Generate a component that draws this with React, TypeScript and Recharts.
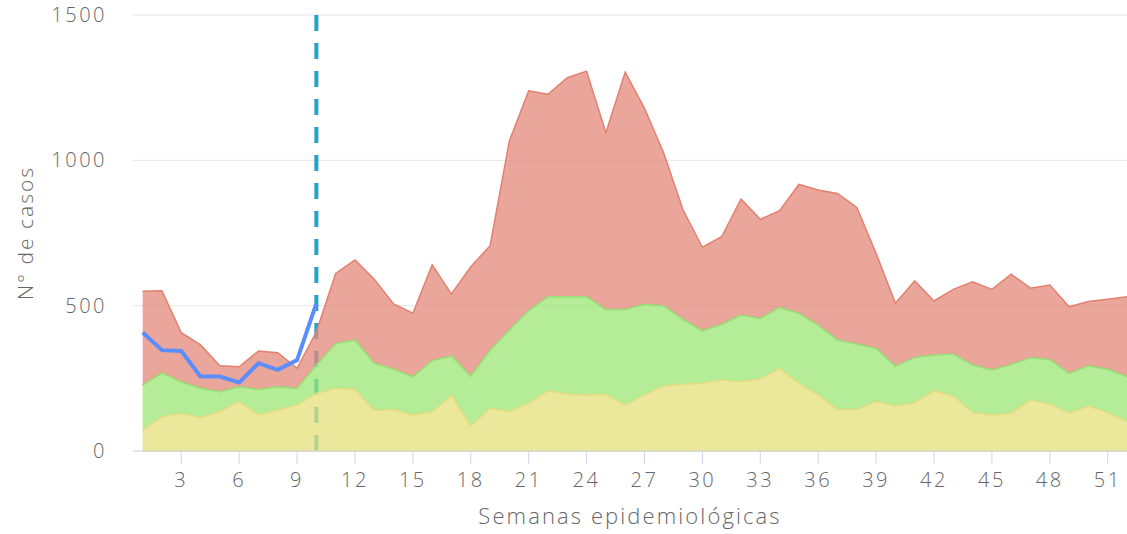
import { Area, CartesianGrid, ComposedChart, Line, ReferenceLine, XAxis, YAxis } from 'recharts';

// epidemiological weeks 1..52
const weeks = Array.from({ length: 52 }, (_, i) => i + 1);

// upper edge of each zone (cases)
const successZone = [
  72, 118, 130, 115, 135, 170, 124, 141, 158, 198, 216, 212, 139, 143, 124, 135, 191, 86, 147, 135,
  164, 207, 195, 193, 195, 158, 193, 224, 230, 233, 244, 238, 248, 284, 233, 193, 143, 143, 170, 155,
  166, 207, 189, 132, 124, 130, 175, 162, 130, 155, 132, 101,
];
const securityZone = [
  227, 269, 238, 216, 204, 221, 212, 221, 216, 296, 370, 382, 302, 281, 256, 311, 327, 258, 347, 416,
  483, 531, 531, 531, 487, 487, 505, 499, 453, 414, 436, 468, 456, 494, 474, 433, 382, 368, 353, 292,
  322, 330, 334, 296, 279, 298, 321, 315, 267, 293, 281, 256,
];
const alertZone = [
  550, 551, 407, 365, 293, 290, 344, 338, 284, 410, 611, 657, 591, 506, 474, 640, 540, 634, 706, 1067,
  1239, 1227, 1284, 1307, 1095, 1303, 1179, 1024, 829, 701, 737, 867, 797, 827, 917, 898, 886, 838, 680, 508,
  585, 516, 556, 582, 556, 608, 560, 571, 496, 514, 522, 531,
];
// current year, reported weeks only
const currentYear = [408, 347, 344, 256, 256, 236, 302, 279, 313, 508];

const currentWeek = 10;
const xTicks = [3, 6, 9, 12, 15, 18, 21, 24, 27, 30, 33, 36, 39, 42, 45, 48, 51];
const yTicks = [0, 500, 1000, 1500];

const data = weeks.map((w, i) => ({
  week: w,
  success: [0, successZone[i]],
  security: [successZone[i], securityZone[i]],
  alert: [securityZone[i], alertZone[i]],
  current: i < currentYear.length ? currentYear[i] : null,
}));

const font = '"Open Sans", sans-serif';
const textColor = '#666666';
const tickStyle = { fill: textColor, fontSize: 20, fontFamily: font, fontWeight: 300, letterSpacing: 2.5 };

function YTitle(props: any) {
  const vb = props.viewBox || { x: 0, y: 0, width: 0, height: 0 };
  const cx = vb.x + 25;
  const cy = vb.y + vb.height / 2;
  return (
    <text
      x={cx}
      y={cy}
      transform={`rotate(-90, ${cx}, ${cy})`}
      textAnchor="middle"
      dominantBaseline="central"
      fill={textColor}
      fontSize={21}
      fontFamily={font}
      fontWeight={300}
      letterSpacing={2}
    >
      N° de casos
    </text>
  );
}

export default function App() {
  return (
    <div style={{ position: 'absolute', left: 0, top: 0, background: '#fff' }}>
      <ComposedChart width={1127} height={534} data={data} margin={{ top: 15, right: 0, bottom: 0, left: 0 }}>
        <CartesianGrid stroke="#e6e6e6" vertical={false} />
        <ReferenceLine
          x={currentWeek}
          stroke="#21a3cb"
          strokeWidth={4}
          strokeDasharray="16 12"
          zIndex={50}
        />
        <Area
          type="linear"
          dataKey="alert"
          stroke="#e3806f"
          strokeWidth={1.5}
          fill="#e4887a"
          fillOpacity={0.75}
          isAnimationActive={false}
        />
        <Area
          type="linear"
          dataKey="security"
          stroke="#97e27a"
          strokeWidth={1.5}
          fill="#9ce676"
          fillOpacity={0.75}
          isAnimationActive={false}
        />
        <Area
          type="linear"
          dataKey="success"
          stroke="#e9dd86"
          strokeWidth={1.5}
          fill="#e4e07b"
          fillOpacity={0.75}
          isAnimationActive={false}
        />
        <Line
          type="linear"
          dataKey="current"
          stroke="#5b8dfc"
          strokeWidth={4}
          dot={false}
          activeDot={false}
          isAnimationActive={false}
        />
        <XAxis
          dataKey="week"
          type="number"
          domain={[0.5, 52]}
          ticks={xTicks}
          interval={0}
          stroke="#ccd6eb"
          tickSize={13}
          tickMargin={9}
          height={83}
          tick={tickStyle}
          label={{
            value: 'Semanas epidemiológicas',
            position: 'insideBottom',
            offset: 10,
            fill: textColor,
            fontSize: 22,
            fontFamily: font,
            fontWeight: 300,
            letterSpacing: 2.1,
          }}
        />
        <YAxis
          domain={[0, 1500]}
          ticks={yTicks}
          width={133}
          axisLine={false}
          tickLine={false}
          tickSize={0}
          tickMargin={26}
          tick={tickStyle}
          label={<YTitle />}
        />
      </ComposedChart>
    </div>
  );
}
